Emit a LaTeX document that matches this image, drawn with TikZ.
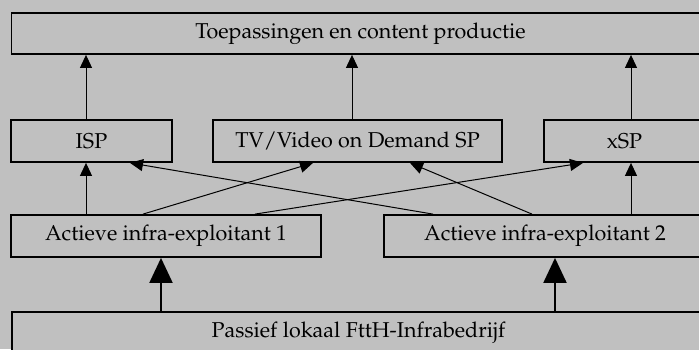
\documentclass[tikz,border=0pt]{standalone}
\usepackage[T1]{fontenc}
\renewcommand{\rmdefault}{ppl}
\usetikzlibrary{arrows.meta}
\definecolor{bg}{HTML}{C0C0C0}
\begin{document}
\begin{tikzpicture}[x=1pt,y=-1pt,
  box/.style={draw=black,line width=1.8pt,fill=bg,inner sep=0pt,minimum height=42pt,font=\fontsize{21.5}{24}\selectfont},
  thin/.style={line width=1pt,-{Triangle[length=13pt,width=12pt]}},
  thick/.style={line width=2pt,-{Triangle[length=25pt,width=23pt]}}]
\useasboundingbox (0,0) rectangle (699,349);
\begin{scope}
\clip (0,0) rectangle (699,349);
\fill[bg] (0,0) rectangle (699,349);
\node[box,minimum width=698pt,minimum height=41pt] (top) at (360.5,33.5) {Toepassingen en content productie};
\node[box,minimum width=161pt] (isp) at (91.5,141) {ISP};
\node[box,minimum width=289pt] (tv) at (357.5,141) {TV/Video on Demand SP};
\node[box,minimum width=161pt] (xsp) at (624.5,141) {xSP};
\node[box,minimum width=310pt] (a1) at (166,236) {Actieve infra-exploitant 1};
\node[box,minimum width=322pt] (a2) at (545,236) {Actieve infra-exploitant 2};
\node[box,minimum width=693pt] (pas) at (358.5,333) {Passief lokaal FttH-Infrabedrijf};
\draw[thin] (isp.north -| 86,0) -- (top.south -| 86,0);
\draw[thin] (tv.north -| 352,0) -- (top.south -| 352,0);
\draw[thin] (xsp.north -| 631,0) -- (top.south -| 631,0);
\draw[thin] (a1.north -| 86,0) -- (isp.south -| 86,0);
\draw[thin] (a2.north -| 631,0) -- (xsp.south -| 631,0);
\draw[thin] (a1.north -| 143,0) -- (tv.south -| 313,0);
\draw[thin] (a1.north -| 255,0) -- (xsp.south -| 583,0);
\draw[thin] (a2.north -| 433,0) -- (isp.south -| 130,0);
\draw[thin] (a2.north -| 532,0) -- (tv.south -| 410,0);
\draw[thick] (pas.north -| 161,0) -- (a1.south -| 161,0);
\draw[thick] (pas.north -| 555,0) -- (a2.south -| 555,0);
\end{scope}
\end{tikzpicture}
\end{document}
